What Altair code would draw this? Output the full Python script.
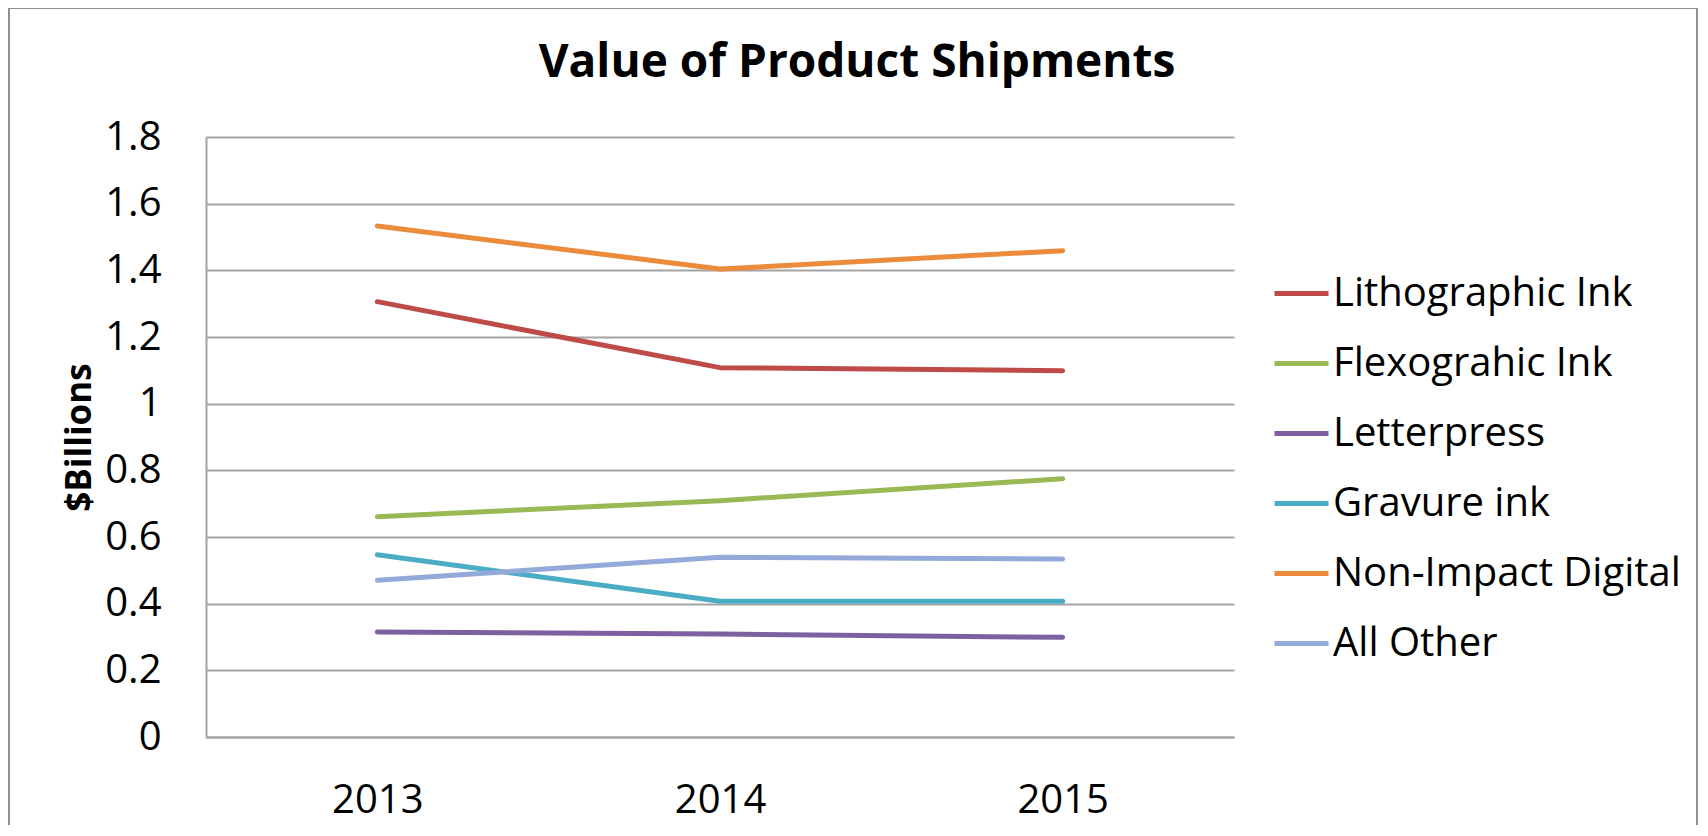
import altair as alt
import pandas as pd

title_text = "Value of Product Shipments"
years = ["2013", "2014", "2015"]
series = ["Lithographic Ink", "Flexograhic Ink", "Letterpress", "Gravure ink",
          "Non-Impact Digital", "All Other"]
litho = [1.306, 1.108, 1.099]
flexo = [0.661, 0.709, 0.775]
letterpress = [0.315, 0.309, 0.299]
gravure = [0.547, 0.407, 0.407]
non_impact = [1.533, 1.404, 1.459]
all_other = [0.470, 0.539, 0.534]
colors = ["#BE4B48", "#98B954", "#7D60A0", "#4AACC5", "#EB8B3C", "#93A9D9"]
y_ticks = [0, 0.2, 0.4, 0.6, 0.8, 1, 1.2, 1.4, 1.6, 1.8]

values = [litho, flexo, letterpress, gravure, non_impact, all_other]
rows = []
for name, vals in zip(series, values):
    for yr, v in zip(years, vals):
        rows.append({"Year": yr, "Series": name, "Value": v})
df = pd.DataFrame(rows)

FONT = "Open Sans"
GRID = "#A3A3A3"

lines = alt.Chart(df).mark_line(strokeWidth=5, strokeCap="round", strokeJoin="round").encode(
    x=alt.X("Year:N", sort=years,
            scale=alt.Scale(type="point", padding=0.5),
            axis=alt.Axis(title=None, labelAngle=0, ticks=False, domain=True,
                          domainColor=GRID, domainWidth=2, grid=False,
                          labelPadding=43, labelFontSize=40, labelFont=FONT,
                          labelColor="black")),
    y=alt.Y("Value:Q",
            scale=alt.Scale(domain=[0, 1.8], nice=False),
            axis=alt.Axis(values=y_ticks, format="~g", grid=True, gridColor=GRID,
                          gridWidth=2, domain=True, domainColor=GRID, domainWidth=2,
                          ticks=False, labelPadding=45, labelFontSize=40,
                          labelFont=FONT, labelColor="black",
                          title="$Billions", titleFont=FONT, titleFontSize=35,
                          titleFontWeight="bold", titleColor="black",
                          titleAngle=270, titleX=-116, titleY=300,
                          titleBaseline="alphabetic", titleAlign="center")),
    color=alt.Color("Series:N", sort=series,
                    scale=alt.Scale(domain=series, range=colors),
                    legend=alt.Legend(title=None, orient="none", legendX=1066,
                                      legendY=127, symbolType="stroke",
                                      symbolSize=2916, symbolStrokeWidth=5,
                                      labelFontSize=40, labelFont=FONT,
                                      labelColor="black", labelOffset=2,
                                      labelLimit=600,
                                      rowPadding=20, padding=0)),
)

one = pd.DataFrame({"t": [title_text]})

border = alt.Chart(one).mark_rect(
    fillOpacity=0, stroke="#8E8E8E", strokeWidth=2
).encode(
    x=alt.value(-197), x2=alt.value(1491), y=alt.value(-129), y2=alt.value(720)
)

title = alt.Chart(one).mark_text(
    font=FONT, fontSize=46, fontWeight="bold", color="black",
    align="center", baseline="alphabetic"
).encode(text="t:N", x=alt.value(651), y=alt.value(-60))

chart = alt.layer(border, lines, title).properties(
    width=1028,
    height=600,
    background="white",
    padding={"left": 198, "top": 129, "right": 466, "bottom": 88},
    autosize=alt.AutoSizeParams(type="none"),
).configure_view(stroke=None)

chart.save("out.html", embed_options={"renderer": "svg", "actions": False})
